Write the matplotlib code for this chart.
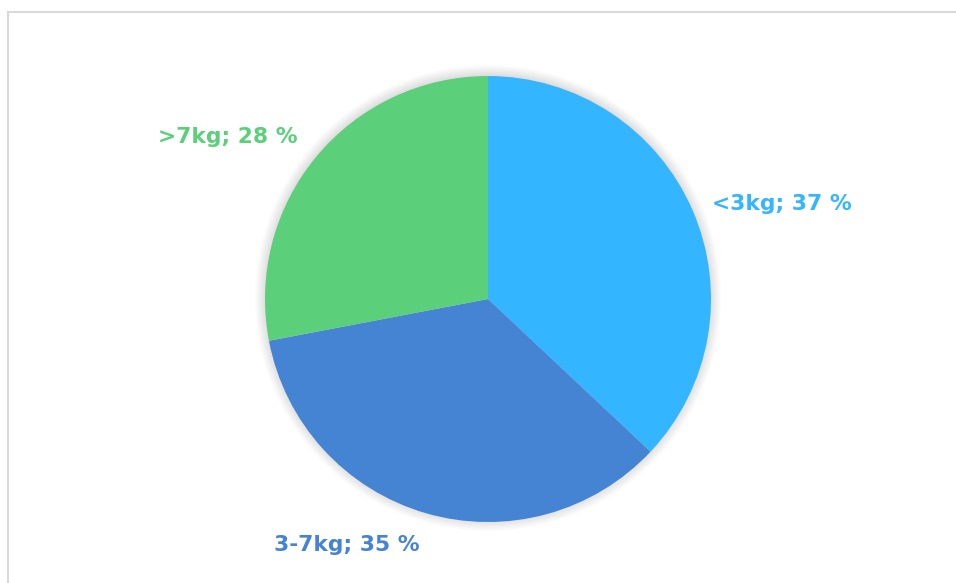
import matplotlib
matplotlib.use("Agg")
import matplotlib.pyplot as plt
from matplotlib.patches import Circle, Rectangle

categories = ["<3kg", "3-7kg", ">7kg"]
values = [37, 35, 28]
colors = ["#33B5FF", "#4584D3", "#5BCF79"]
label_pos = [(712, 204, "left"), (347, 545, "center"), (158, 137, "left")]

W, H = 956, 583
fig = plt.figure(figsize=(W / 100, H / 100), dpi=100)
ax = fig.add_axes([0, 0, 1, 1])

# outer frame
ax.add_patch(Rectangle((8.5, -10), W, H - 11 + 10 - 0.5, fill=False,
                       edgecolor="#D9D9D9", linewidth=1.5))

cx, cy, r = 488, H - 299, 223

# soft shadow
for i in range(12):
    ax.add_patch(Circle((cx, cy + 1), r + 10 - i, color="black",
                        alpha=0.010, linewidth=0, zorder=1))

ax.pie(values, colors=colors, startangle=90, counterclock=False,
       center=(cx, cy), radius=r, frame=True,
       wedgeprops=dict(linewidth=0, zorder=2))
ax.set_xlim(0, W)
ax.set_ylim(0, H)
ax.set_aspect("equal")
ax.axis("off")

for (x, y, ha), cat, v, c in zip(label_pos, categories, values, colors):
    ax.text(x, H - y, f"{cat}; {v} %", color=c, fontsize=15.7,
            fontweight="bold", family="DejaVu Sans", ha=ha, va="center",
            zorder=3)

fig.savefig("out.png", dpi=100)
